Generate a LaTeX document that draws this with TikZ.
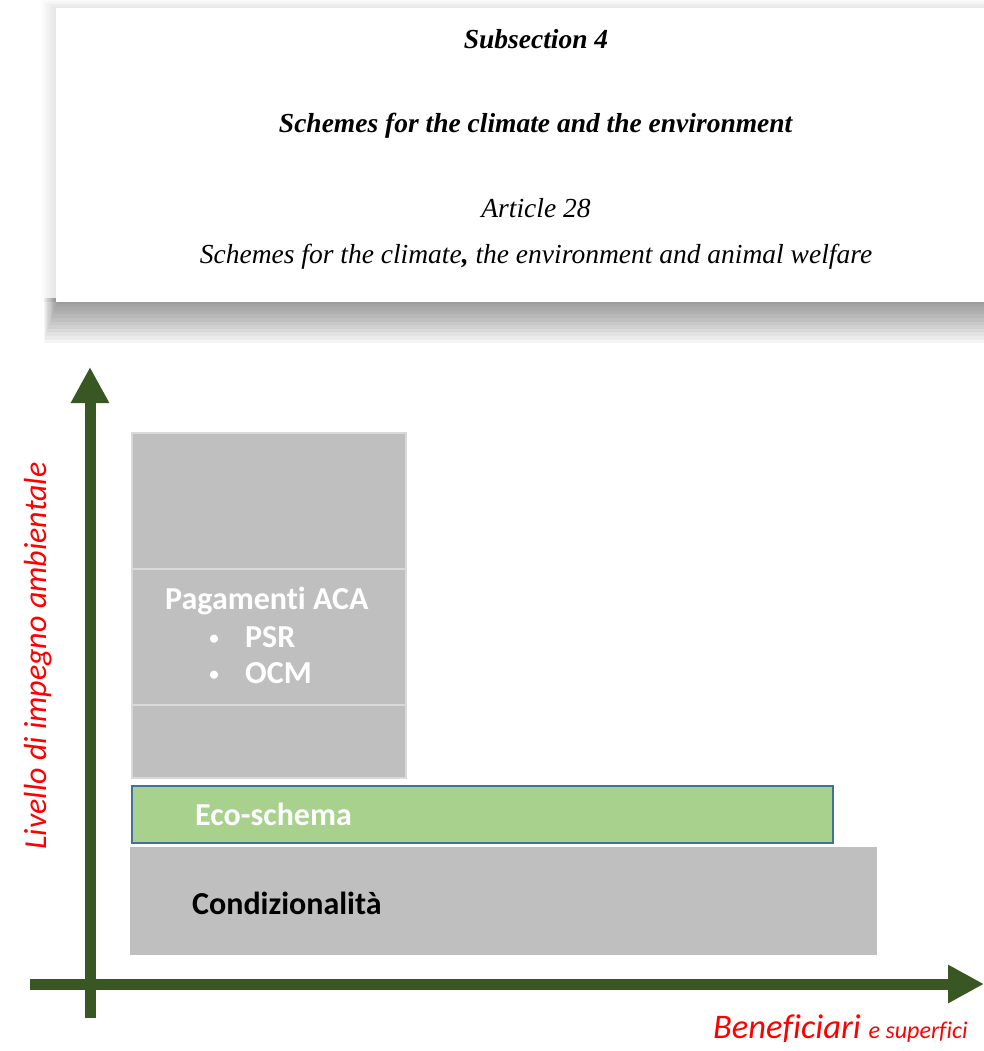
\documentclass[tikz,border=0pt]{standalone}
\usepackage{fontspec}
\setmainfont{Liberation Serif}
\newfontfamily\calibri[Ligatures=CommonOff]{Carlito}
\usetikzlibrary{arrows.meta}
\definecolor{axisgreen}{HTML}{385723}
\definecolor{boxgray}{HTML}{BFBFBF}
\definecolor{boxedge}{HTML}{D9D9D9}
\definecolor{ecogreen}{HTML}{A9D18E}
\definecolor{ecoedge}{HTML}{41719C}
\definecolor{labelred}{HTML}{FF0000}
\begin{document}
\begin{tikzpicture}[x=1pt,y=-1pt,
  axis/.style={line width=11pt, draw=axisgreen, -{Triangle[width=36pt,length=36pt]}},
  grayblock/.style={fill=boxgray, draw=boxedge, line width=1.5pt, inner sep=0pt},
  ecoblock/.style={fill=ecogreen, draw=ecoedge, line width=2pt, inner sep=0pt},
  condblock/.style={fill=boxgray, draw=none, inner sep=0pt},
  boxtext/.style={inner sep=0pt, font=\calibri\bfseries\fontsize{32pt}{35pt}\selectfont},
  bullettext/.style={inner sep=0pt, font=\calibri\bfseries\fontsize{19pt}{22pt}\selectfont},
  headtext/.style={inner sep=0pt, anchor=base, font=\fontsize{27.5pt}{30pt}\selectfont},
  redlabel/.style={inner sep=0pt, text=labelred, font=\calibri\itshape}
]
\useasboundingbox (0,0) rectangle (984,1051);
% soft glow around the panel
\foreach \i in {1,...,6}{
  \fill[black, opacity=0.016] (56-\i*2.5, 8-\i*1.3) rectangle (990, 302);
}
% shadow below the panel
\foreach \i in {1,...,12}{
  \fill[black, opacity=0.04] (58-\i*1.2, 298) rectangle (990, 300+\i*3.6);
}
\fill[white] (56,8) rectangle (990,302);
\node[headtext] (sub) at (536,49) {\textbf{\textit{Subsection 4}}};
\node[headtext] (sch) at (536,133) {\textbf{\textit{Schemes for the climate and the environment}}};
\node[headtext] (art) at (536,217) {\textit{Article 28}};
\node[headtext] (art2) at (536,263) {\textit{Schemes for the climate\textbf{,} the environment and animal welfare}};

% blocks
\node[grayblock, minimum width=274pt, minimum height=136pt, anchor=north west] (acatop) at (131,432) {};
\node[grayblock, minimum width=274pt, minimum height=136pt, anchor=north west] (acamid) at (131,568) {};
\node[grayblock, minimum width=274pt, minimum height=73pt, anchor=north west] (acabot) at (131,704) {};
\node[ecoblock, minimum width=701pt, minimum height=57pt, anchor=north west] (eco) at (131,785) {};
\node[condblock, minimum width=747pt, minimum height=108pt, anchor=north west] (cond) at (130,847) {};

\node[boxtext, text=white, anchor=base west] (aca) at (165,609) {Pagamenti ACA};
\node[bullettext, text=white, anchor=base] (bul1) at (214,644) {•};
\node[boxtext, text=white, anchor=base west] (psr) at (245,647) {PSR};
\node[bullettext, text=white, anchor=base] (bul2) at (214,680) {•};
\node[boxtext, text=white, anchor=base west] (ocm) at (245,683) {OCM};
\node[boxtext, text=white, anchor=base west] (ecot) at (195,825) {Eco-schema};
\node[boxtext, text=black, anchor=base west] (condt) at (192,914) {Condizionalità};

% axes
\coordinate (ybot) at (90,1018);
\coordinate (ytop) at (90,367);
\coordinate (xleft) at (30,984);
\coordinate (xright) at (984,984);
\draw[axis] (ybot) -- (ytop);
\draw[axis] (xleft) -- (xright);

\node[redlabel, rotate=90, anchor=base, font=\calibri\itshape\fontsize{32pt}{35pt}\selectfont] (ylab) at (46,656) {Livello di impegno ambientale};
\node[redlabel, anchor=base west] (xlab) at (713,1038) {{\fontsize{34.5pt}{36pt}\selectfont Beneficiari }{\fontsize{24pt}{26pt}\selectfont e superfici}};
\end{tikzpicture}
\end{document}
